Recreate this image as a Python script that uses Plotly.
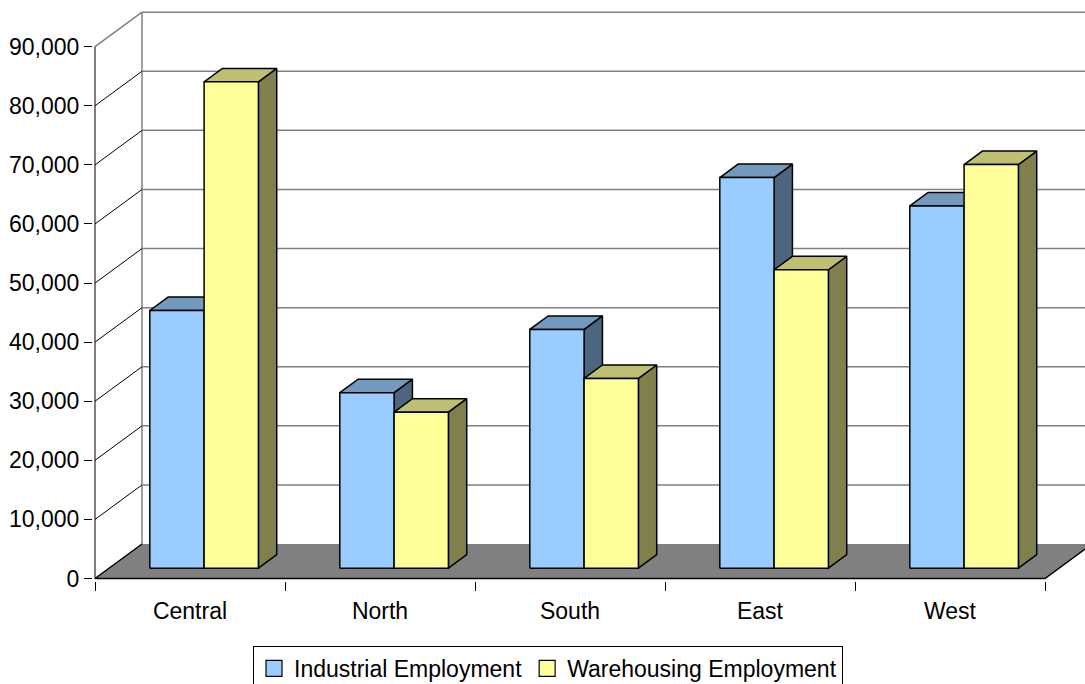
import plotly.graph_objects as go

# ---- data -------------------------------------------------------------
categories = ["Central", "North", "South", "East", "West"]
industrial = [43600, 29700, 40400, 66100, 61300]
warehousing = [82300, 26400, 32100, 50500, 68300]
series_names = ["Industrial Employment", "Warehousing Employment"]
y_ticks = [0, 10000, 20000, 30000, 40000, 50000, 60000, 70000, 80000, 90000]

# ---- styling ----------------------------------------------------------
FONT = "Liberation Sans, Arial, sans-serif"
front_colors = ["#99CCFF", "#FFFF99"]
top_colors = ["#7399BF", "#BFBF73"]
side_colors = ["#4D6680", "#80804D"]
GRID = "#808080"
FLOOR = "#808080"

# oblique projection: moving through the full depth of the chart box shifts
# a point right by WALL_DX (category units) and up by WALL_DY (value units)
WALL_DX = 47 / 190
WALL_DY = 5840
BAR_D0, BAR_D1 = 0.30, 0.69      # depth span occupied by the columns
GAP = 1.5                         # gap width as a fraction of one column
BAR_W = 1 / (2 + GAP)
Y_TOP = y_ticks[-1]
N = len(categories)

fig = go.Figure()


def add_poly(xs, ys, fill=None, line_color=None, width=1.5, mode="lines"):
    fig.add_trace(go.Scatter(
        x=xs, y=ys, mode=mode,
        fill="toself" if fill else None,
        fillcolor=fill,
        line=dict(color=line_color or "rgba(0,0,0,0)", width=width),
        showlegend=False, hoverinfo="skip",
    ))


# back wall gridlines
gx, gy = [], []
for v in y_ticks[1:]:
    gx += [WALL_DX, N + 1, None]
    gy += [v + WALL_DY, v + WALL_DY, None]
gx += [WALL_DX, WALL_DX]
gy += [WALL_DY, Y_TOP + WALL_DY]
add_poly(gx, gy, line_color=GRID, width=1.5)

# side wall diagonals
dx, dy = [], []
for v in y_ticks[1:-1]:
    dx += [0, WALL_DX, None]
    dy += [v, v + WALL_DY, None]
add_poly(dx, dy, line_color="#000000", width=1)
add_poly([0, WALL_DX], [Y_TOP, Y_TOP + WALL_DY], line_color=GRID, width=1.5)

# floor
add_poly([0, N, N + WALL_DX, WALL_DX, 0], [0, 0, WALL_DY, WALL_DY, 0], fill=FLOOR)
add_poly([WALL_DX, 0, N, N + WALL_DX], [WALL_DY, 0, 0, WALL_DY],
         line_color="#000000", width=1.5)

# front value axis
add_poly([0, 0], [0, Y_TOP], line_color="#000000", width=1)

# columns: side, top, then front face of each series
dd = BAR_D1 - BAR_D0
for s, values in enumerate([industrial, warehousing]):
    sx, sy, tx, ty, fx, fy = [], [], [], [], [], []
    for c, v in enumerate(values):
        x0 = c + (1 - 2 * BAR_W) / 2 + s * BAR_W + BAR_D0 * WALL_DX
        x1 = x0 + BAR_W
        y0 = BAR_D0 * WALL_DY
        yt = v + y0
        ox, oy = dd * WALL_DX, dd * WALL_DY
        sx += [x1, x1, x1 + ox, x1 + ox, x1, None]
        sy += [y0, yt, yt + oy, y0 + oy, y0, None]
        tx += [x0, x1, x1 + ox, x0 + ox, x0, None]
        ty += [yt, yt, yt + oy, yt + oy, yt, None]
        fx += [x0, x1, x1, x0, x0, None]
        fy += [y0, y0, yt, yt, y0, None]
    add_poly(sx, sy, fill=side_colors[s], line_color="#000000", width=1.5)
    add_poly(tx, ty, fill=top_colors[s], line_color="#000000", width=1.5)
    add_poly(fx, fy, fill=front_colors[s], line_color="#000000", width=1.5)

# legend entries
for s, name in enumerate(series_names):
    fig.add_trace(go.Scatter(
        x=[None], y=[None], mode="markers", name=name,
        marker=dict(symbol="square", size=17, color=front_colors[s],
                    line=dict(color="#000000", width=1.2)),
    ))

# ---- axes / layout ----------------------------------------------------
PX_PER_UNIT_Y = 59.09 / 10000
PLOT_H = 581
ZERO_PX = 578.5
y_min = -(PLOT_H - ZERO_PX) / PX_PER_UNIT_Y
y_max = y_min + PLOT_H / PX_PER_UNIT_Y

PLOT_L = 93
PLOT_W = 1085 - PLOT_L
x_min = -(95 - PLOT_L) / 190
x_max = x_min + PLOT_W / 190

fig.update_layout(
    width=1085, height=684,
    margin=dict(l=PLOT_L, r=0, t=0, b=684 - PLOT_H),
    paper_bgcolor="white", plot_bgcolor="white",
    font=dict(family=FONT, size=23, color="#000000"),
    showlegend=True,
    legend=dict(
        orientation="h", xref="container", yref="container",
        x=548 / 1085, xanchor="center", y=1 - 646 / 684, yanchor="top",
        bordercolor="#000000", borderwidth=1, bgcolor="white",
        font=dict(family=FONT, size=23, color="#000000"),
        itemclick=False, itemdoubleclick=False,
    ),
    hovermode=False,
)
fig.update_xaxes(
    range=[x_min, x_max], showgrid=False, zeroline=False, showline=False,
    tickmode="array", tickvals=[c + 0.5 for c in range(N)], ticktext=categories,
    ticks="", ticklabelstandoff=14,
    minor=dict(tickmode="array", tickvals=list(range(N + 1)), ticks="outside",
               ticklen=9, tickcolor="#000000", tickwidth=1, showgrid=False),
    tickfont=dict(family=FONT, size=23, color="#000000"),
)
fig.update_yaxes(
    range=[y_min, y_max], showgrid=False, zeroline=False, showline=False,
    tickmode="array", tickvals=y_ticks, tickformat=",",
    ticks="outside", ticklen=8, tickcolor="#000000", tickwidth=1,
    tickfont=dict(family=FONT, size=23, color="#000000"),
)

fig.write_html("out.html")
